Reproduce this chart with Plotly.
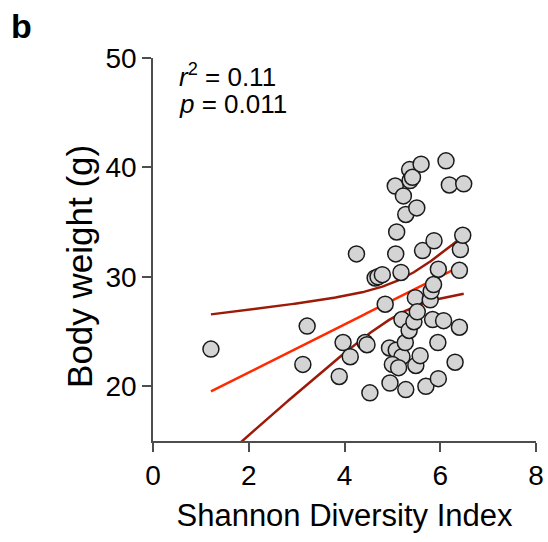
import numpy as np
import plotly.graph_objects as go

# Shannon diversity index vs. body weight, one value per animal
shannon = [1.21, 3.13, 3.22, 3.89, 3.97, 4.12, 4.25, 4.43, 4.47, 4.53,
           4.64, 4.70, 4.79, 4.85, 4.94, 4.95, 5.06, 5.09, 5.07, 5.08,
           5.18, 5.20, 5.20, 5.00, 5.13, 5.23, 5.27, 5.28, 5.28, 5.36,
           5.35, 5.37, 5.42, 5.45, 5.48, 5.49, 5.51, 5.52, 5.58, 5.60,
           5.63, 5.70, 5.79, 5.81, 5.86, 5.84, 5.87, 5.96, 5.95, 5.96,
           6.07, 6.12, 6.19, 6.31, 6.40, 6.40, 6.42, 6.49, 6.47]
body_weight = [23.4, 22.0, 25.5, 20.9, 24.0, 22.7, 32.1, 24.0, 23.8, 19.4,
               29.9, 30.0, 30.2, 27.5, 23.5, 20.3, 38.3, 34.1, 32.1, 23.3,
               30.4, 26.1, 22.7, 22.0, 21.7, 37.4, 24.0, 19.7, 35.7, 39.8,
               25.1, 38.8, 39.1, 25.9, 28.1, 21.9, 36.3, 26.8, 22.8, 40.3,
               32.4, 20.0, 27.9, 28.7, 29.3, 26.1, 33.3, 30.7, 24.0, 20.7,
               26.0, 40.6, 38.4, 22.2, 30.6, 25.4, 32.5, 38.5, 33.8]

x_ticks = [0, 2, 4, 6, 8]
y_ticks = [20, 30, 40, 50]

x = np.array(shannon)
y = np.array(body_weight)
n = len(x)

# ordinary least squares fit with 95% confidence band for the mean
slope, intercept = np.polyfit(x, y, 1)
resid = y - (slope * x + intercept)
s_err = np.sqrt(np.sum(resid ** 2) / (n - 2))
x_mean = x.mean()
sxx = np.sum((x - x_mean) ** 2)
T95 = 2.002  # two-sided t critical value, df = n - 2

xs = np.linspace(x.min(), x.max(), 200)
ys = slope * xs + intercept
half = T95 * s_err * np.sqrt(1.0 / n + (xs - x_mean) ** 2 / sxx)

FIT_RED = "#ff2a00"
BAND_RED = "#9c1a08"
AXIS = "#4d4d4d"
FONT = "Liberation Sans, Arial, sans-serif"

fig = go.Figure()
fig.add_trace(go.Scatter(x=xs, y=ys + half, mode="lines",
                         line=dict(color=BAND_RED, width=2.5), hoverinfo="skip"))
fig.add_trace(go.Scatter(x=xs, y=ys - half, mode="lines",
                         line=dict(color=BAND_RED, width=2.5), hoverinfo="skip"))
fig.add_trace(go.Scatter(x=xs, y=ys, mode="lines",
                         line=dict(color=FIT_RED, width=2.5), hoverinfo="skip"))
fig.add_trace(go.Scatter(x=shannon, y=body_weight, mode="markers",
                         marker=dict(size=16, color="#d4d4d4",
                                     line=dict(color="#1a1a1a", width=1.5)),
                         cliponaxis=False))

axis_common = dict(
    showline=True, linecolor=AXIS, linewidth=1.5,
    ticks="outside", tickcolor=AXIS, tickwidth=1.5, ticklen=9,
    showgrid=False, zeroline=False, automargin=False,
    tickfont=dict(family=FONT, size=28, color="black"),
)

fig.update_layout(
    width=548, height=542,
    margin=dict(l=153, r=12, t=58, b=101),
    paper_bgcolor="white", plot_bgcolor="white",
    showlegend=False,
    font=dict(family=FONT, color="black"),
    xaxis=dict(range=[0, 8], tickvals=x_ticks,
               title=dict(text="Shannon Diversity Index",
                          font=dict(family=FONT, size=31), standoff=14),
               **axis_common),
    yaxis=dict(range=[15, 50], tickvals=y_ticks, **axis_common),
    annotations=[
        dict(text="Body weight (g)", textangle=-90, xref="paper", yref="paper",
             x=-0.19, y=0.455, xanchor="center", yanchor="middle",
             showarrow=False, font=dict(family=FONT, size=35)),
        dict(text="<i>r</i><sup>2</sup> = 0.11", xref="x", yref="y",
             x=0.5, y=48.4, xanchor="left", yanchor="middle",
             showarrow=False, font=dict(family=FONT, size=26)),
        dict(text="<i>p</i> = 0.011", xref="x", yref="y",
             x=0.5, y=45.8, xanchor="left", yanchor="middle",
             showarrow=False, font=dict(family=FONT, size=26)),
        dict(text="<b>b</b>", xref="paper", yref="paper",
             x=-0.375, y=1.083, xanchor="left", yanchor="middle",
             showarrow=False, font=dict(family=FONT, size=34)),
    ],
)

fig.write_html("out.html")
